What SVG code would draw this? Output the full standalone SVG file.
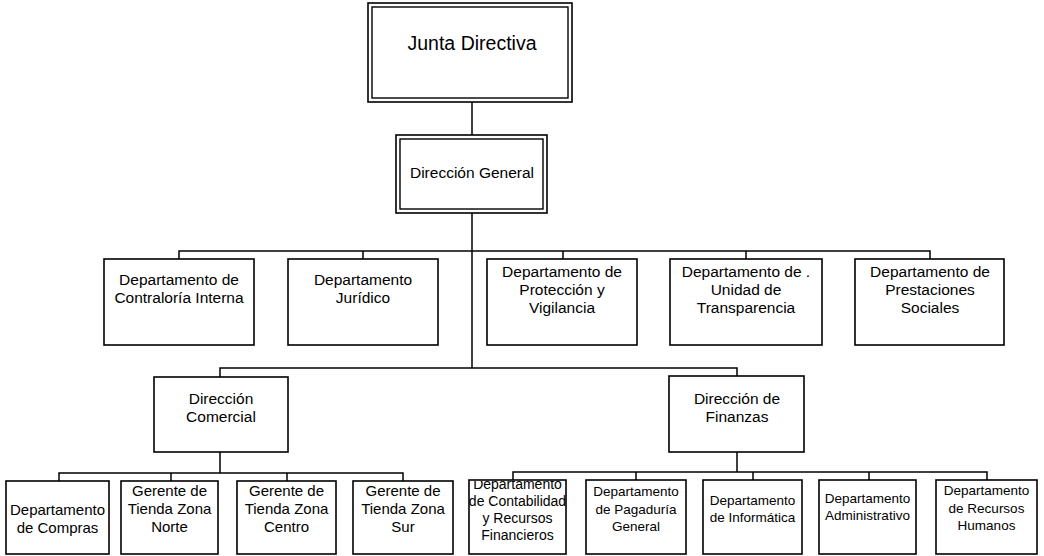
<svg xmlns="http://www.w3.org/2000/svg" width="1044" height="556" viewBox="0 0 1044 556">
<style>
.box{fill:#fff;stroke:#000;stroke-width:1.6}
.dbl{fill:none;stroke:#000;stroke-width:1.4}
.ln{fill:none;stroke:#000;stroke-width:1.5}
text{font-family:"Liberation Sans",Arial,sans-serif;fill:#000;text-anchor:middle}
.t20{font-size:19.5px}
.t155{font-size:15.5px}
.t15{font-size:15px}
.t14{font-size:14px}
.t135{font-size:13.5px}
</style>
<defs>
<clipPath id="clipConta"><rect x="470" y="481" width="95" height="74"/></clipPath>
</defs>
<rect width="1044" height="556" fill="#fff"/>
<g id="connectors">
<path class="ln" d="M472 102V135"/>
<path class="ln" d="M472 213V368"/>
<path class="ln" d="M179 259V251H930V259M363 251V259M563 251V259M746 251V259"/>
<path class="ln" d="M220 377V368H737V376"/>
<path class="ln" d="M220 452V473M59 481V473H403V481M171 473V481M287 473V481"/>
<path class="ln" d="M737 452V472M513 480V472H987V480M636 472V480M753 472V480M869 472V480"/>
</g>
<g id="junta">
<rect x="368" y="3" width="204" height="99" class="box" stroke-width="2"/>
<rect x="372" y="7" width="196" height="91" class="dbl"/>
<text class="t20" x="472" y="50">Junta Directiva</text>
</g>
<g id="direccion-general">
<rect x="396" y="135" width="151" height="78" class="box" stroke-width="2"/>
<rect x="400" y="139" width="143" height="70" class="dbl"/>
<text class="t155" x="472" y="177.5">Dirección General</text>
</g>
<g id="contraloria">
<rect x="104" y="259" width="150" height="86" class="box"/>
<text class="t155" x="179" y="285">Departamento de</text>
<text class="t155" x="179" y="303">Contraloría Interna</text>
</g>
<g id="juridico">
<rect x="288" y="259" width="150" height="86" class="box"/>
<text class="t155" x="363" y="285">Departamento</text>
<text class="t155" x="363" y="303">Jurídico</text>
</g>
<g id="proteccion">
<rect x="487" y="259" width="150" height="86" class="box"/>
<text class="t155" x="562" y="277">Departamento de</text>
<text class="t155" x="562" y="295">Protección y</text>
<text class="t155" x="562" y="313">Vigilancia</text>
</g>
<g id="transparencia">
<rect x="670" y="259" width="152" height="86" class="box"/>
<text class="t155" x="746" y="277">Departamento de .</text>
<text class="t155" x="746" y="295">Unidad de</text>
<text class="t155" x="746" y="313">Transparencia</text>
</g>
<g id="prestaciones">
<rect x="855" y="259" width="149" height="86" class="box"/>
<text class="t155" x="930" y="277">Departamento de</text>
<text class="t155" x="930" y="295">Prestaciones</text>
<text class="t155" x="930" y="313">Sociales</text>
</g>
<g id="comercial">
<rect x="154" y="377" width="134" height="75" class="box"/>
<text class="t155" x="221" y="403.5">Dirección</text>
<text class="t155" x="221" y="421.5">Comercial</text>
</g>
<g id="finanzas">
<rect x="669" y="376" width="135" height="76" class="box"/>
<text class="t155" x="737" y="403.5">Dirección de</text>
<text class="t155" x="737" y="421.5">Finanzas</text>
</g>
<g id="compras">
<rect x="6" y="481" width="103" height="73" class="box"/>
<text class="t15" x="57.5" y="515">Departamento</text>
<text class="t15" x="57.5" y="533">de Compras</text>
</g>
<g id="zona-norte">
<rect x="121" y="481" width="97" height="73" class="box"/>
<text class="t15" x="169.5" y="496">Gerente de</text>
<text class="t15" x="169.5" y="514">Tienda Zona</text>
<text class="t15" x="169.5" y="532">Norte</text>
</g>
<g id="zona-centro">
<rect x="237" y="481" width="99" height="73" class="box"/>
<text class="t15" x="286.5" y="496">Gerente de</text>
<text class="t15" x="286.5" y="514">Tienda Zona</text>
<text class="t15" x="286.5" y="532">Centro</text>
</g>
<g id="zona-sur">
<rect x="353" y="481" width="100" height="73" class="box"/>
<text class="t15" x="403" y="496">Gerente de</text>
<text class="t15" x="403" y="514">Tienda Zona</text>
<text class="t15" x="403" y="532">Sur</text>
</g>
<g id="contabilidad">
<rect x="469" y="480" width="97" height="74" fill="#fff"/>
<g clip-path="url(#clipConta)">
<text class="t14" x="517.5" y="489">Departamento</text>
</g>
<text class="t14" x="517.5" y="506">de Contabilidad</text>
<text class="t14" x="517.5" y="523">y Recursos</text>
<text class="t14" x="517.5" y="540">Financieros</text>
<rect x="469" y="480" width="97" height="74" fill="none" stroke="#000" stroke-width="1.6"/>
</g>
<g id="pagaduria">
<rect x="586" y="480" width="100" height="74" class="box"/>
<text class="t135" x="636" y="496">Departamento</text>
<text class="t135" x="636" y="514">de Pagaduría</text>
<text class="t135" x="636" y="531">General</text>
</g>
<g id="informatica">
<rect x="703" y="480" width="99" height="74" class="box"/>
<text class="t135" x="752.5" y="505">Departamento</text>
<text class="t135" x="752.5" y="522">de Informática</text>
</g>
<g id="administrativo">
<rect x="819" y="480" width="97" height="74" class="box"/>
<text class="t135" x="867.5" y="503">Departamento</text>
<text class="t135" x="867.5" y="520">Administrativo</text>
</g>
<g id="recursos-humanos">
<rect x="936" y="480" width="101" height="74" class="box"/>
<text class="t135" x="986.5" y="495">Departamento</text>
<text class="t135" x="986.5" y="513">de Recursos</text>
<text class="t135" x="986.5" y="530">Humanos</text>
</g>
</svg>
